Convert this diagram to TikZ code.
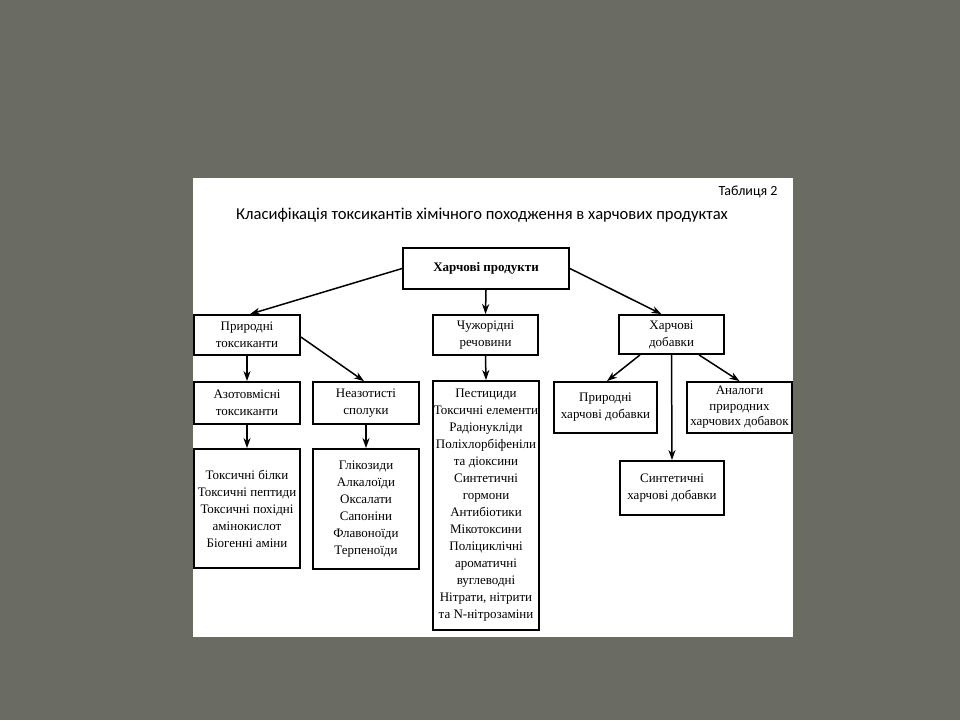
\documentclass[tikz,border=0pt]{standalone}
\usepackage{fontspec}
\setmainfont{Liberation Serif}
\newfontfamily\titlefont{Carlito}
\usetikzlibrary{arrows.meta}
\definecolor{bg}{RGB}{106,108,97}
\tikzset{
  box/.style={draw=black, line width=1.8pt, fill=white, align=center, inner sep=0pt,
    font=\fontsize{13}{17}\selectfont},
  arr/.style={line width=1.5pt, -{Stealth[length=10pt,width=7pt,inset=3pt]}},
  plain/.style={line width=1.5pt}
}
\begin{document}
\begin{tikzpicture}[x=1pt,y=-1pt]
\fill[bg] (0,0) rectangle (960,720);
\fill[white] (193,178) rectangle (793,637);
\useasboundingbox (0,0) rectangle (960,720);

\node[anchor=east, font=\titlefont\fontsize{14}{16}\selectfont] (tab) at (781,192) {Таблиця 2};
\node[font=\titlefont\fontsize{16.6}{20}\selectfont] (title) at (482,215)
  {Класифікація токсикантів хімічного походження в харчових продуктах};

\node[box, minimum width=166pt, minimum height=41pt, font=\bfseries\fontsize{13}{17}\selectfont] (root) at (486,268.5) {Харчові продукти};
\node[box, minimum width=106pt, minimum height=40pt] (nat) at (247,335) {Природні\\токсиканти};
\node[box, minimum width=105pt, minimum height=40pt] (for) at (485.5,335) {Чужорідні\\речовини};
\node[box, minimum width=105pt, minimum height=39pt] (add) at (671.5,334.5) {Харчові\\добавки};
\node[box, minimum width=106pt, minimum height=42pt] (azot) at (247,403) {Азотовмісні\\токсиканти};
\node[box, minimum width=106pt, minimum height=42pt] (neaz) at (366,403) {Неазотисті\\сполуки};
\node[box, minimum width=106pt, minimum height=249pt] (big) at (486,505.5)
  {Пестициди\\Токсичні елементи\\Радіонукліди\\Поліхлорбіфеніли\\та діоксини\\Синтетичні\\гормони\\Антибіотики\\Мікотоксини\\Поліциклічні\\ароматичні\\вуглеводні\\Нітрати, нітрити\\та N-нітрозаміни};
\node[box, minimum width=103pt, minimum height=51pt] (natadd) at (605.5,407.5) {Природні\\харчові добавки};
\node[box, minimum width=105pt, minimum height=51pt, font=\fontsize{13}{15.5}\selectfont] (anal) at (739.5,407.5) {Аналоги\\природних\\харчових добавок};
\node[box, minimum width=106pt, minimum height=119pt] (azlist) at (247,508.5)
  {Токсичні білки\\Токсичні пептиди\\Токсичні похідні\\амінокислот\\Біогенні аміни};
\node[box, minimum width=106pt, minimum height=120pt] (nelist) at (366,509)
  {Глікозиди\\Алкалоїди\\Оксалати\\Сапоніни\\Флавоноїди\\Терпеноїди};
\node[box, minimum width=104pt, minimum height=54pt] (synth) at (672,488) {Синтетичні\\харчові добавки};

\draw[arr] (root.west) -- ([xshift=3pt]nat.north);
\draw[arr] (root.south) -- (for.north);
\draw[arr] (root.east) -- ([xshift=-10pt]add.north);
\draw[arr] (nat.south) -- (azot.north);
\draw[arr] ([yshift=-2pt]nat.east) -- ([xshift=-2pt]neaz.north);
\draw[arr] (for.south) -- (big.north);
\draw[arr] (azot.south) -- (azlist.north);
\draw[arr] (neaz.south) -- (nelist.north);
\draw[arr] ([xshift=-31.5pt]add.south) -- ([xshift=1.5pt]natadd.north);
\draw[arr] ([xshift=27.5pt]add.south) -- (anal.north);
\draw[arr] (add.south) -- (synth.north);
\end{tikzpicture}
\end{document}
